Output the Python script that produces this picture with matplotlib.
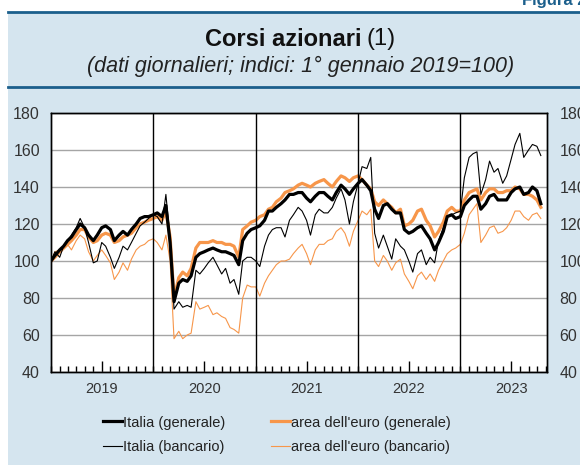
import numpy as np
import pandas as pd
import matplotlib
matplotlib.use('Agg')
import matplotlib.pyplot as plt
import matplotlib.dates as mdates
from matplotlib.patches import Rectangle
from matplotlib.lines import Line2D

plt.rcParams['font.family'] = ['Liberation Sans', 'DejaVu Sans']

# semi-monthly readings (1st and 15th of each month), index 1 Jan 2019 = 100
dates = pd.date_range('2019-01-01', '2023-10-15', freq='SMS')

italia_gen = [
    100, 103, 106, 108, 111, 113, 117, 120, 118, 114, 111, 114, 118, 119, 117, 111, 114, 116, 114, 117, 120, 123, 124, 124,
    125, 126, 124, 130, 110, 78, 88, 90, 89, 92, 102, 104, 105, 106, 107, 106, 105, 105, 104, 103, 98, 111, 115, 117,
    118, 119, 122, 127, 127, 129, 131, 133, 136, 136, 137, 137, 134, 132, 135, 137, 137, 135, 133, 137, 141, 139, 136, 139,
    142, 144, 141, 138, 128, 123, 130, 131, 128, 126, 126, 117, 115, 116, 118, 119, 115, 112, 106, 110, 116, 124, 125, 123,
    124, 130, 133, 135, 135, 128, 131, 135, 136, 133, 133, 133, 137, 139, 140, 136, 137, 140, 138, 131]
euro_gen = [
    100, 102, 105, 107, 109, 111, 114, 117, 117, 113, 110, 111, 114, 115, 114, 110, 111, 113, 114, 115, 118, 120, 121, 122,
    123, 124, 122, 127, 113, 80, 91, 94, 92, 96, 107, 110, 110, 110, 111, 110, 110, 109, 109, 108, 102, 117, 119, 121,
    122, 124, 125, 128, 129, 132, 134, 137, 138, 139, 141, 142, 141, 140, 142, 143, 144, 142, 140, 143, 146, 145, 143, 145,
    146, 144, 141, 139, 132, 130, 133, 131, 129, 126, 128, 119, 120, 122, 127, 128, 122, 119, 113, 116, 121, 127, 129, 127,
    127, 133, 137, 138, 139, 133, 137, 139, 139, 137, 137, 138, 138, 140, 139, 136, 136, 135, 133, 129]
italia_banc = [
    100, 105, 102, 108, 111, 114, 118, 123, 118, 110, 99, 100, 110, 108, 102, 96, 102, 108, 106, 110, 115, 119, 121, 123,
    125, 124, 120, 136, 112, 74, 78, 75, 76, 75, 95, 93, 96, 99, 102, 98, 93, 96, 88, 90, 82, 100, 102, 102,
    100, 97, 108, 114, 117, 118, 118, 113, 122, 125, 129, 127, 122, 114, 125, 128, 126, 126, 129, 134, 139, 133, 120, 132,
    142, 151, 150, 156, 115, 107, 114, 108, 101, 112, 108, 106, 100, 94, 104, 106, 98, 102, 99, 111, 118, 124, 125, 126,
    127, 145, 156, 158, 159, 136, 144, 154, 148, 150, 142, 146, 155, 163, 169, 156, 160, 163, 162, 157]
euro_banc = [
    100, 105, 106, 108, 109, 106, 111, 114, 112, 105, 100, 103, 106, 103, 99, 90, 94, 99, 95, 101, 106, 108, 109, 111,
    112, 110, 106, 114, 100, 58, 62, 58, 60, 61, 78, 74, 75, 76, 71, 72, 70, 69, 64, 63, 61, 80, 87, 86,
    86, 81, 88, 92, 95, 98, 100, 100, 101, 104, 107, 109, 104, 98, 106, 109, 109, 111, 112, 116, 118, 115, 108, 116,
    122, 127, 125, 128, 100, 97, 103, 100, 95, 99, 101, 93, 89, 85, 92, 94, 90, 93, 89, 95, 100, 104, 106, 107,
    109, 115, 125, 128, 131, 110, 114, 118, 119, 115, 116, 118, 122, 127, 127, 124, 122, 125, 126, 123]

years = [2019, 2020, 2021, 2022, 2023]
yticks = [40, 60, 80, 100, 120, 140, 160, 180]

BG = '#d5e5ef'
DARK = '#1b5f8c'
ORANGE = '#f7964a'

W, H = 580, 467
fig = plt.figure(figsize=(W / 100, H / 100), dpi=100)
fig.patch.set_facecolor('white')
bgrect = Rectangle((8 / W, 2 / H), 1, 1 - 14 / H, transform=fig.transFigure,
                   facecolor=BG, edgecolor='none', zorder=-10)
fig.patches.append(bgrect)
for yp in (12, 87):
    fig.add_artist(Line2D([8 / W, 1], [1 - yp / H] * 2, color=DARK, lw=2))

fig.text(1.012, 1.0, 'Figura 2', ha='right', va='center', fontsize=12,
         fontweight='bold', color=DARK)

# title: bold part + regular "(1)"
t1 = fig.text(205 / W, 1 - 39 / H, 'Corsi azionari', ha='left', va='center',
              fontsize=17, fontweight='bold', color='#111111')
r = fig.canvas.get_renderer()
bb = t1.get_window_extent(r)
fig.text(bb.x1 / W + 5 / W, 1 - 39 / H, '(1)', ha='left', va='center',
         fontsize=17, color='#111111')
fig.text(301 / W, 1 - 66 / H, '(dati giornalieri; indici: 1° gennaio 2019=100)',
         ha='center', va='center', fontsize=15.5, style='italic', color='#222222')

ax = fig.add_axes([51 / W, 1 - 372 / H, (547 - 51) / W, (372 - 113) / H])
ax.set_facecolor('white')

ax.plot(dates, euro_banc, color=ORANGE, lw=0.8, label="area dell'euro (bancario)", zorder=3)
ax.plot(dates, euro_gen, color=ORANGE, lw=2.3, label="area dell'euro (generale)", zorder=4)
ax.plot(dates, italia_gen, color='black', lw=2.3, label='Italia (generale)', zorder=5)
ax.plot(dates, italia_banc, color='black', lw=0.8, label='Italia (bancario)', zorder=6)

for y in years[1:]:
    ax.axvline(pd.Timestamp(f'{y}-01-01'), color='black', lw=1, zorder=7)

ax.set_xlim(pd.Timestamp('2019-01-01'), pd.Timestamp('2023-11-06'))
ax.set_ylim(40, 180)
ax.set_yticks(yticks)
ax.grid(axis='y', color='#a5a5a5', lw=1, zorder=1)
ax.set_axisbelow(True)

ax.xaxis.set_minor_locator(mdates.MonthLocator())
ax.set_xticks([pd.Timestamp(f'{y}-07-01') for y in years])
ax.set_xticklabels([str(y) for y in years])
ax.tick_params(axis='x', which='major', direction='in', length=8, width=1,
               labelsize=10.5, pad=7, labelcolor='#333333')
ax.tick_params(axis='x', which='minor', direction='in', length=4, width=1)
ax.tick_params(axis='y', length=0, labelsize=11.5, pad=8, labelcolor='#333333')

ax2 = ax.twinx()
ax2.set_ylim(40, 180)
ax2.set_yticks(yticks)
ax2.tick_params(axis='y', length=0, labelsize=11.5, pad=9, labelcolor='#333333')

for a in (ax, ax2):
    for s in a.spines.values():
        s.set_color('black')
        s.set_linewidth(1)

h, l = ax.get_legend_handles_labels()
order = [2, 3, 1, 0]
leg = fig.legend([h[i] for i in order], [l[i] for i in order], ncol=2,
                 loc='center', bbox_to_anchor=(277 / W, 1 - 435 / H), frameon=False,
                 fontsize=10.5, handlelength=1.3, handletextpad=0.1,
                 columnspacing=3.1, labelspacing=0.75)
for t in leg.get_texts():
    t.set_color('#222222')

fig.savefig('out.png', dpi=100)
